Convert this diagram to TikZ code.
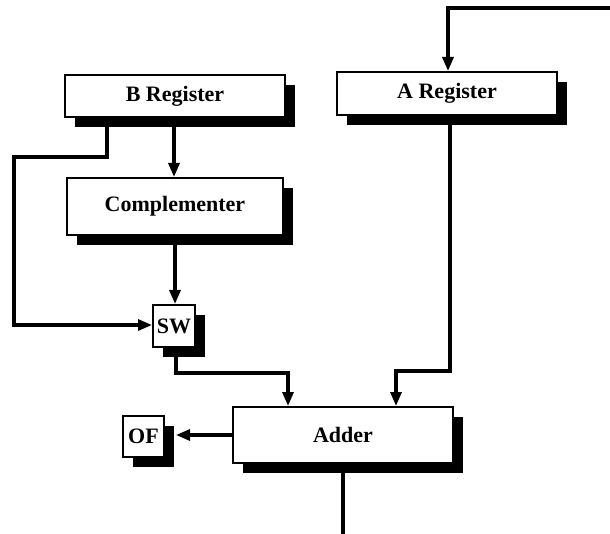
\documentclass[tikz,border=0pt]{standalone}
\usepackage{fontspec}
\setmainfont{Liberation Serif}
\usetikzlibrary{arrows.meta,shadows}
\begin{document}
\begin{tikzpicture}[x=1pt,y=-1pt,
  blk/.style={draw=black,line width=2pt,fill=white,inner sep=0pt,
    font=\fontsize{22}{24}\selectfont\bfseries,
    drop shadow={shadow xshift=10pt,shadow yshift=-10pt,fill=black,opacity=1}},
  wire/.style={line width=3.2pt,line join=miter},
  arr/.style={wire,-{Triangle[length=14pt,width=11pt]}}]
\useasboundingbox (0,0) rectangle (610,534);
\node[blk,minimum width=220pt,minimum height=42pt] (B) at (175,96) {B Register};
\node[blk,minimum width=216pt,minimum height=57pt] (C) at (175,206.5) {Complementer};
\node[blk,minimum width=220pt,minimum height=43pt] (A) at (447,93.5) {A Register};
\node[blk,minimum width=42pt,minimum height=42pt] (SW) at (174,326) {SW};
\node[blk,minimum width=220pt,minimum height=56pt] (Add) at (343,435) {Adder};
\node[blk,minimum width=41pt,minimum height=41pt] (OF) at (143.5,436.5) {OF};
\coordinate (topin) at (612,8);
\coordinate (out) at (343,536);
% feedback into A register
\draw[arr] (topin) -- (448,8) -- (A.north -| 448,0);
% B -> Complementer
\draw[arr] ([yshift=-9pt]B.south -| 174,0) -- (C.north -| 174,0);
% Complementer -> SW
\draw[arr] ([yshift=-9pt]C.south -| 175,0) -- (SW.north -| 175,0);
% B -> SW bypass
\draw[arr] (B.south -| 107,0) -- (107,157) -- (14,157) -- (14,325) -- (SW.west |- 0,325);
% SW -> Adder
\draw[arr] (SW.south -| 176,0) -- (176,373) -- (288,373) -- (Add.north -| 288,0);
% A -> Adder
\draw[arr] (A.south -| 450,0) -- (450,371) -- (396,371) -- (Add.north -| 396,0);
% Adder -> OF
\draw[arr] (Add.west) -- ([xshift=11pt]OF.east |- Add.west);
% Adder output
\draw[wire] ([yshift=-9pt]Add.south) -- (out);
\end{tikzpicture}
\end{document}
